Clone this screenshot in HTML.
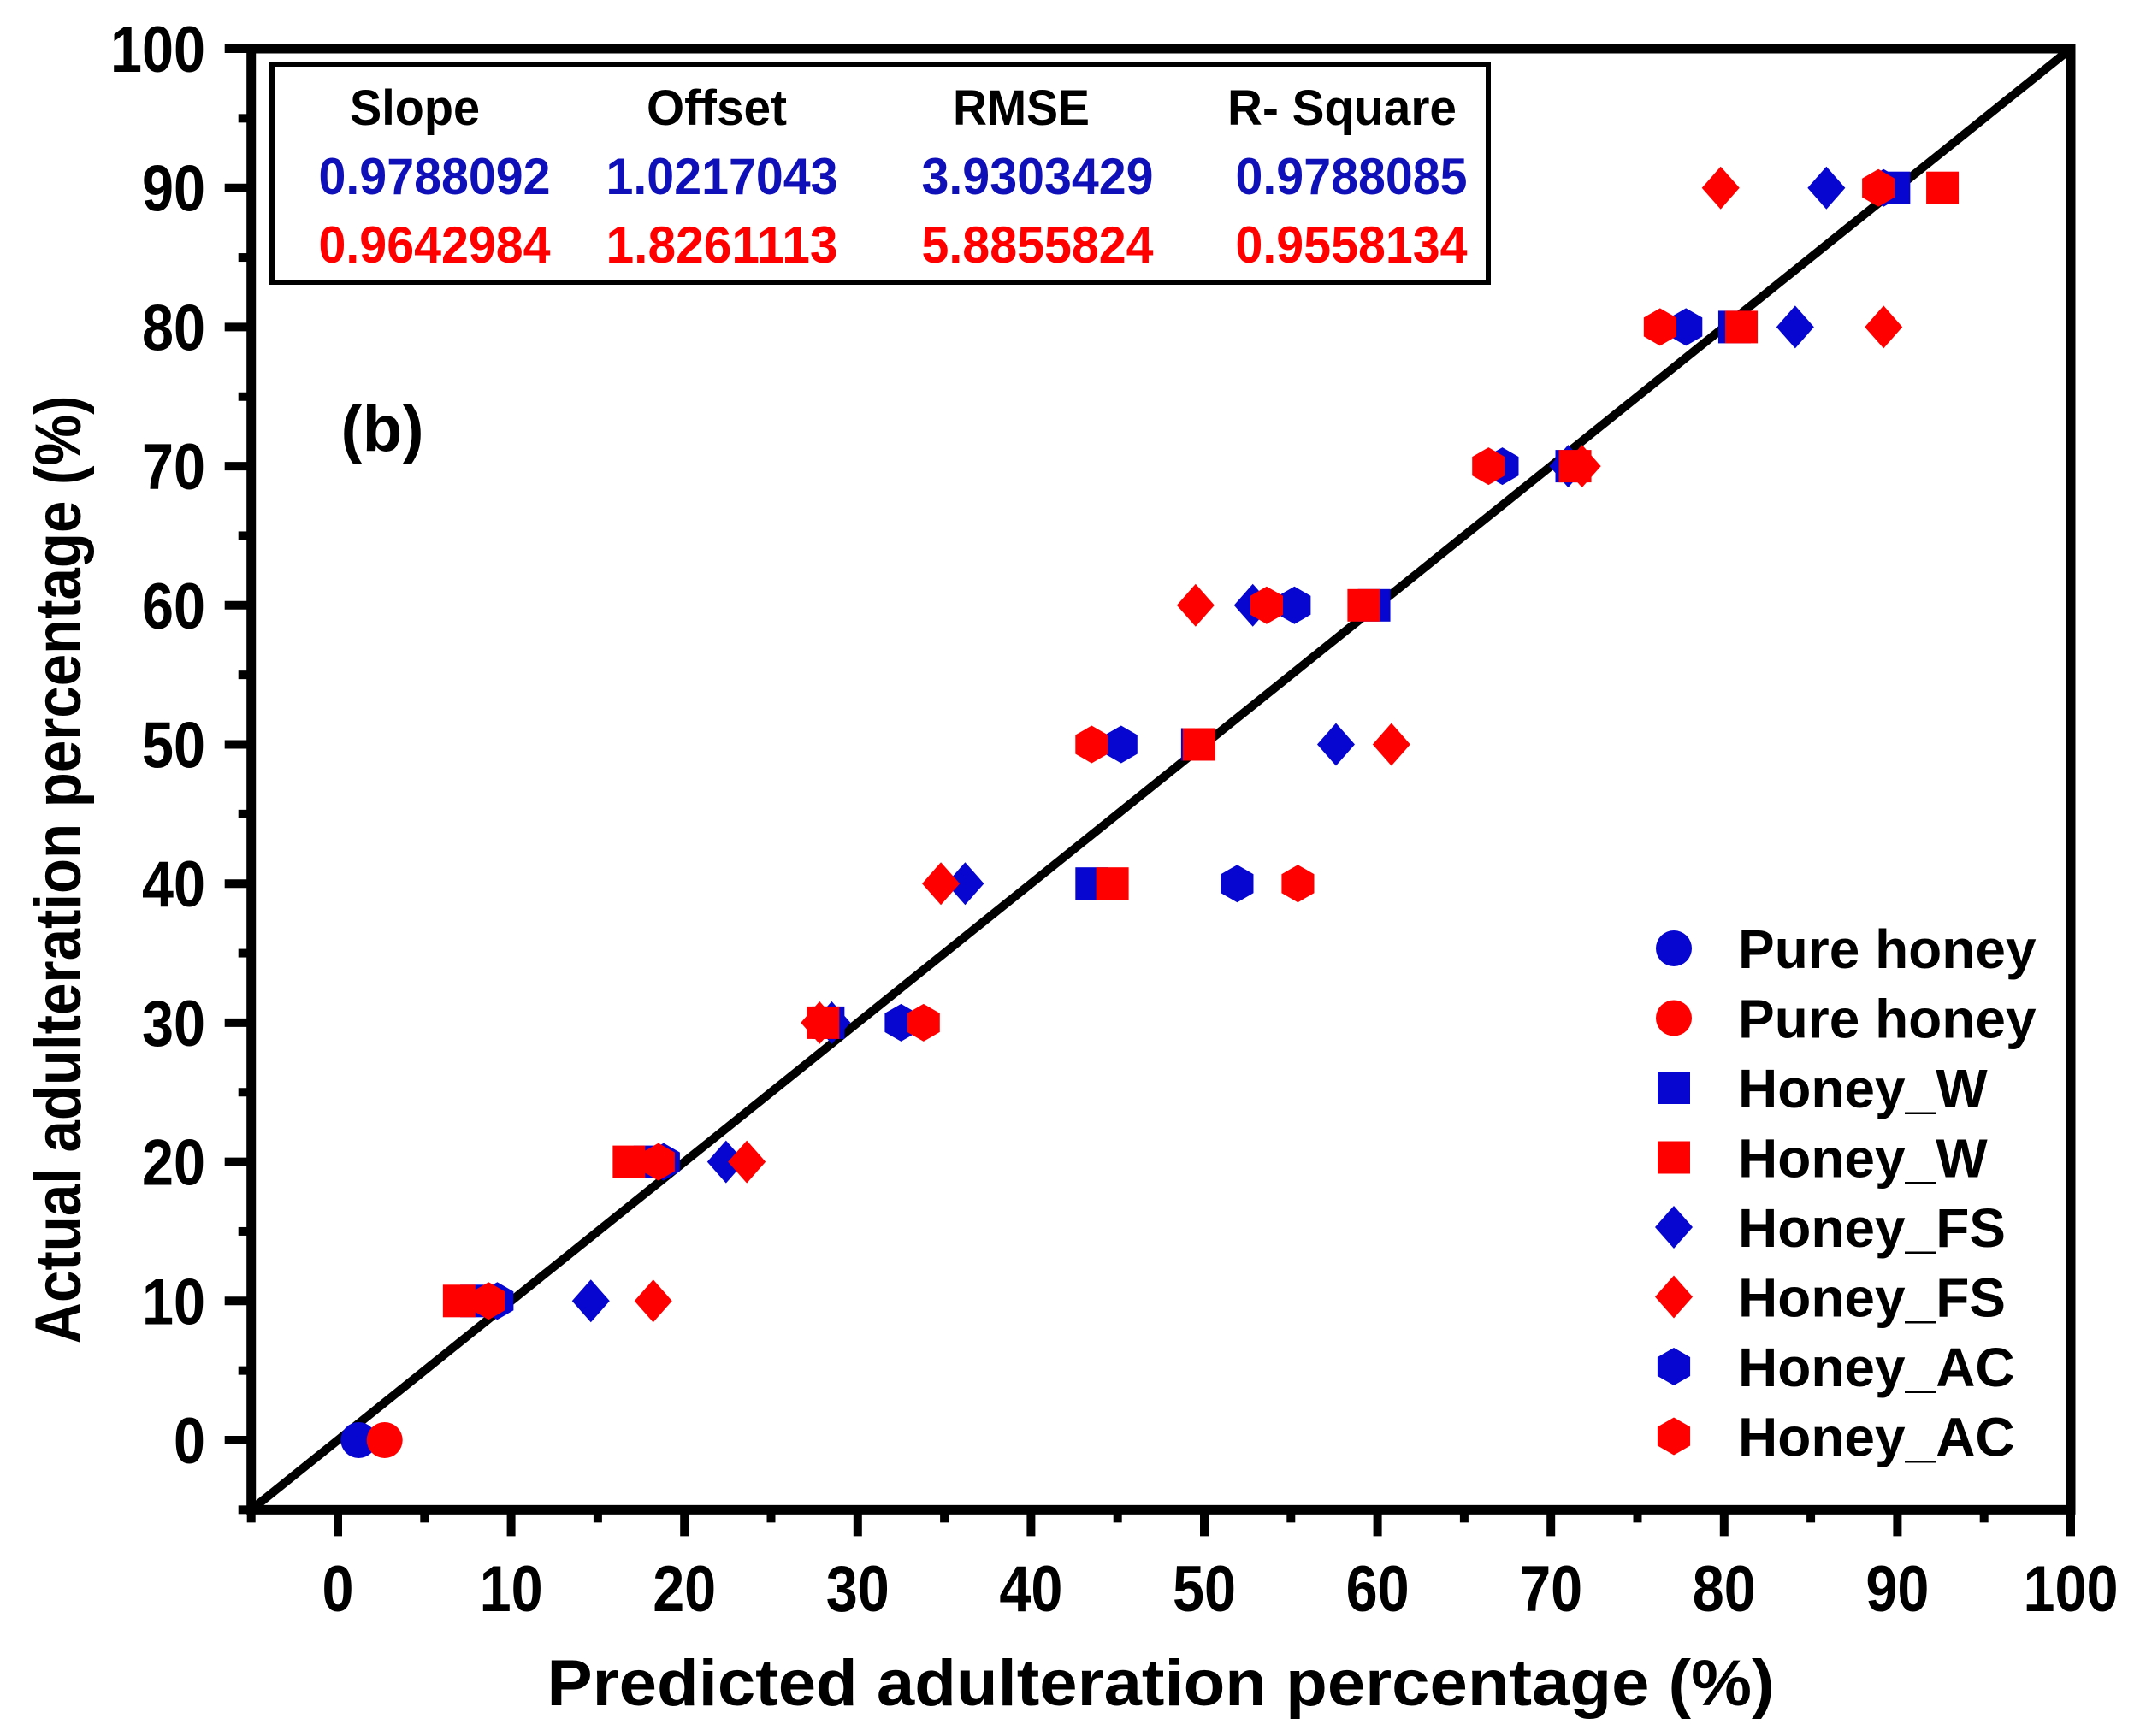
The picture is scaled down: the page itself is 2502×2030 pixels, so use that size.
<!DOCTYPE html>
<html><head><meta charset="utf-8"><style>
html,body{margin:0;padding:0;background:#fff;}
svg{display:block;}
text{font-family:"Liberation Sans",Arial,sans-serif;font-weight:bold;}
.tk{font-family:"Liberation Sans Narrow","Liberation Sans",sans-serif;font-size:76px;}
</style></head><body>
<svg id="chart" width="2502" height="2030" viewBox="0 0 2502 2030" xmlns="http://www.w3.org/2000/svg">
<g id="marks"></g>
<g id="axes"></g>
</svg>
<script>
const levels = [10,20,30,40,50,60,70,80,90];
const pureBlueX = [1.2];
const pureBlueY = [0];
const pureRedX = [2.7];
const pureRedY = [0];
const wBlue = [8, 18, 28.3, 43.5, 49.6, 59.8, 71.2, 80.6, 89.8];
const wRed = [7, 16.8, 28, 44.7, 49.7, 59.2, 71.4, 81, 92.6];
const fsBlue = [14.6, 22.4, 28.5, 36.2, 57.6, 52.8, 71, 84.1, 85.9];
const fsRed = [18.2, 23.6, 27.8, 34.8, 60.8, 49.5, 71.8, 89.2, 79.8];
const acBlue = [9.2, 18.8, 32.5, 51.9, 45.2, 55.2, 67.2, 77.8, 89.2];
const acRed = [8.7, 18.5, 33.8, 55.4, 43.5, 53.6, 66.4, 76.3, 88.9];
const xTicks = [0,10,20,30,40,50,60,70,80,90,100];
const yTicks = [0,10,20,30,40,50,60,70,80,90,100];
const statHeaders = ["Slope","Offset","RMSE","R- Square"];
const statBlue = ["0.9788092","1.0217043","3.9303429","0.9788085"];
const statRed = ["0.9642984","1.8261113","5.8855824","0.9558134"];
const legendLabels = ["Pure honey","Pure honey","Honey_W","Honey_W","Honey_FS","Honey_FS","Honey_AC","Honey_AC"];

const BLUE="#0606d0", RED="#ff0000";
const X = v => 395 + v*20.26;
const Y = v => 1684 - v*16.27;
const NS="http://www.w3.org/2000/svg";
const marks=document.getElementById('marks'), axes=document.getElementById('axes');
function mk(tag,attrs,parent){const e=document.createElementNS(NS,tag);for(const k in attrs)e.setAttribute(k,attrs[k]);parent.appendChild(e);return e;}

function marker(type,cx,cy,color,parent){
  let e;
  if(type==='circle'){e=mk('ellipse',{cx:cx,cy:cy,rx:21,ry:21,fill:color},parent);}
  else if(type==='square'){e=mk('rect',{x:cx-19,y:cy-19,width:38,height:38,fill:color},parent);}
  else if(type==='diamond'){e=mk('polygon',{points:`${cx},${cy-25} ${cx+22},${cy} ${cx},${cy+25} ${cx-22},${cy}`,fill:color},parent);}
  else {const r=22;let p=[];for(let i=0;i<6;i++){const a=Math.PI/6+i*Math.PI/3;p.push((cx+r*Math.cos(a)).toFixed(1)+','+(cy+r*Math.sin(a)).toFixed(1));}
    e=mk('polygon',{points:p.join(' '),fill:color},parent);}
  return e;
}
const diag=mk('line',{x1:X(-5),y1:Y(-5),x2:X(100),y2:Y(100),stroke:'#000','stroke-width':10},marks);



function series(xs,ys,type,color,name){
  xs.forEach((v,i)=>{const m=marker(type,X(v),Y(ys[i]),color,marks);
    
    });
}
series(pureBlueX,pureBlueY,'circle',BLUE,'point-pure-honey-blue');
series(pureRedX,pureRedY,'circle',RED,'point-pure-honey-red');
series(wBlue,levels,'square',BLUE,'point-honey-w-blue');
series(fsBlue,levels,'diamond',BLUE,'point-honey-fs-blue');
series(acBlue,levels,'hex',BLUE,'point-honey-ac-blue');
series(wRed,levels,'square',RED,'point-honey-w-red');
series(fsRed,levels,'diamond',RED,'point-honey-fs-red');
series(acRed,levels,'hex',RED,'point-honey-ac-red');

const fr=mk('rect',{x:X(-5),y:Y(100),width:X(100)-X(-5),height:Y(-5)-Y(100),fill:'none',stroke:'#000','stroke-width':11},axes);


const yb=Y(-5)+5, xl=X(-5)-5;
for(let v=-5;v<=100;v+=5){
  const major=v%10===0;
  mk('line',{x1:X(v),y1:yb,x2:X(v),y2:yb+(major?26:10),stroke:'#000','stroke-width':10},axes);
  mk('line',{x1:xl,y1:Y(v),x2:xl-(major?26:10),y2:Y(v),stroke:'#000','stroke-width':10},axes);
}
xTicks.forEach(v=>{const s=String(v);const t=mk('text',{x:X(v),y:1884,'text-anchor':'middle',class:'tk',textLength:s.length*37,lengthAdjust:'spacingAndGlyphs'},axes);t.textContent=s;
  
  });
yTicks.forEach(v=>{const s=String(v);const t=mk('text',{x:240,y:Y(v)+27,'text-anchor':'end',class:'tk',textLength:s.length*37,lengthAdjust:'spacingAndGlyphs'},axes);t.textContent=s;
  
  });

const sb=mk('rect',{x:318,y:75,width:1422,height:255,fill:'#fff',stroke:'#000','stroke-width':6},axes);


const hc=[485,838,1194,1569], vc=[508,844,1213,1580], hw=[152,164,160,268];
statHeaders.forEach((s,i)=>{const t=mk('text',{x:hc[i],y:146,'text-anchor':'middle','font-size':58,fill:'#000',textLength:hw[i],lengthAdjust:'spacingAndGlyphs'},axes);t.textContent=s;
  
  });
statBlue.forEach((s,i)=>{const t=mk('text',{x:vc[i],y:227,'text-anchor':'middle','font-size':60,fill:'#1010b8',textLength:271,lengthAdjust:'spacingAndGlyphs'},axes);t.textContent=s;
  
  });
statRed.forEach((s,i)=>{const t=mk('text',{x:vc[i],y:307,'text-anchor':'middle','font-size':60,fill:RED,textLength:271,lengthAdjust:'spacingAndGlyphs'},axes);t.textContent=s;
  
  });

const ltypes=['circle','circle','square','square','diamond','diamond','hex','hex'];
legendLabels.forEach((s,i)=>{const cy=1109+i*81.5;const c=i%2?RED:BLUE;
  const m=marker(ltypes[i],1957,cy,c,axes);
  
  
  const t=mk('text',{x:2032,y:cy+23,'font-size':64,fill:'#000'},axes);t.textContent=s;
  
  });

const lb=mk('text',{x:447,y:527,'text-anchor':'middle','font-size':76,fill:'#000'},axes);lb.textContent='(b)';


const xt=mk('text',{x:1357,y:1994,'text-anchor':'middle','font-size':76,textLength:1435,lengthAdjust:'spacingAndGlyphs'},axes);
xt.textContent='Predicted adulteration percentage (%)';


const yt=mk('text',{x:0,y:0,'text-anchor':'middle','font-size':76,textLength:1109,lengthAdjust:'spacingAndGlyphs',transform:'translate(94,1017) rotate(-90)'},axes);
yt.textContent='Actual adulteration percentage (%)';


</script>
</body></html>
